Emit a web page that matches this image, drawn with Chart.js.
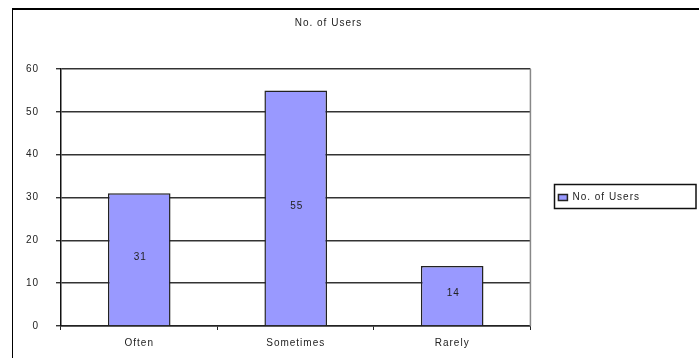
<!DOCTYPE html>
<html>
<head>
<meta charset="utf-8">
<script src="https://cdn.jsdelivr.net/npm/chart.js@4.4.1/dist/chart.umd.min.js"></script>
<style>
    html, body { margin: 0; padding: 0; background: #fff; }
    #wrap { position: relative; width: 699px; height: 358px; overflow: hidden; }
    #frame {
        position: absolute; left: 12px; top: 8px; width: 700px; height: 360px;
        border-top: 2px solid #000; border-left: 1.5px solid #000;
    }
    #chart { position: absolute; left: 0; top: 0; }
</style>
</head>
<body>
<div id="wrap">
    <div id="frame"></div>
    <canvas id="chart" width="699" height="358"></canvas>
</div>
<script>
const chartTitle = "No. of Users";
const categories = ["Often", "Sometimes", "Rarely"];
const users = [31, 55, 14];
const yTicks = [0, 10, 20, 30, 40, 50, 60];

const FONT = "'Liberation Sans', Arial, sans-serif";
const TEXT = "#222";

// small-size office text looks loosely spaced, so widen it a little
const spacing = {
    id: "spacing",
    beforeLayout(chart) { chart.ctx.letterSpacing = "1px"; },
    beforeDraw(chart) { chart.ctx.letterSpacing = "1px"; },
};

// value printed in the middle of each bar
const barValues = {
    id: "barValues",
    afterDatasetsDraw(chart) {
        const ctx = chart.ctx;
        const meta = chart.getDatasetMeta(0);
        ctx.save();
        ctx.letterSpacing = "1px";
        ctx.font = "10px " + FONT;
        ctx.fillStyle = TEXT;
        ctx.textAlign = "center";
        ctx.textBaseline = "middle";
        meta.data.forEach((bar, i) => {
            ctx.fillText(String(users[i]), bar.x + 1, (bar.y + bar.base) / 2 - 2);
        });
        ctx.restore();
    },
};

// right edge of the plot area and the box round the legend
const frames = {
    id: "frames",
    afterDraw(chart) {
        const ctx = chart.ctx;
        const area = chart.chartArea;
        ctx.save();
        ctx.strokeStyle = "#888";
        ctx.lineWidth = 1.5;
        ctx.beginPath();
        ctx.moveTo(area.right, area.top);
        ctx.lineTo(area.right, area.bottom);
        ctx.stroke();

        const hb = chart.legend.legendHitBoxes[0];
        if (hb) {
            const x0 = Math.round(hb.left - 4) + 0.5;
            const y0 = Math.round(hb.top + hb.height / 2 - 14) + 0.5;
            ctx.strokeStyle = "#111";
            ctx.lineWidth = 1.5;
            ctx.strokeRect(x0, y0, chart.width - 3 - x0, 24);
        }
        ctx.restore();
    },
};

new Chart(document.getElementById("chart"), {
    type: "bar",
    data: {
        labels: categories,
        datasets: [{
            label: chartTitle,
            data: users,
            backgroundColor: "#9999ff",
            borderColor: "#222",
            borderWidth: 1.5,
            categoryPercentage: 1,
            barPercentage: 0.4,
        }],
    },
    options: {
        responsive: false,
        animation: false,
        events: [],
        layout: { padding: { left: 7, right: 49, top: 0, bottom: 0 } },
        plugins: {
            title: {
                display: true,
                text: chartTitle,
                color: TEXT,
                font: { family: FONT, size: 10, weight: "normal" },
                padding: { top: 17, bottom: 40 },
            },
            legend: {
                position: "right",
                fullSize: false,
                labels: {
                    boxWidth: 9,
                    boxHeight: 6,
                    padding: 28,
                    color: TEXT,
                    font: { family: FONT, size: 10 },
                },
            },
            tooltip: { enabled: false },
        },
        scales: {
            x: {
                afterFit(scale) { scale.height = 32; },
                grid: { drawOnChartArea: false, tickLength: 4, color: "#222" },
                border: { color: "#222", width: 1.5 },
                ticks: { color: TEXT, padding: 7, font: { family: FONT, size: 10 } },
            },
            y: {
                min: yTicks[0],
                max: yTicks[yTicks.length - 1],
                afterFit(scale) { scale.width = 54; },
                afterBuildTicks(scale) { scale.ticks = yTicks.map((v) => ({ value: v })); },
                grid: { color: "#333", lineWidth: 1.4, tickLength: 5 },
                border: { color: "#111", width: 1.5 },
                ticks: { color: TEXT, padding: 17, font: { family: FONT, size: 10 } },
            },
        },
    },
    plugins: [spacing, barValues, frames],
});
</script>
</body>
</html>
